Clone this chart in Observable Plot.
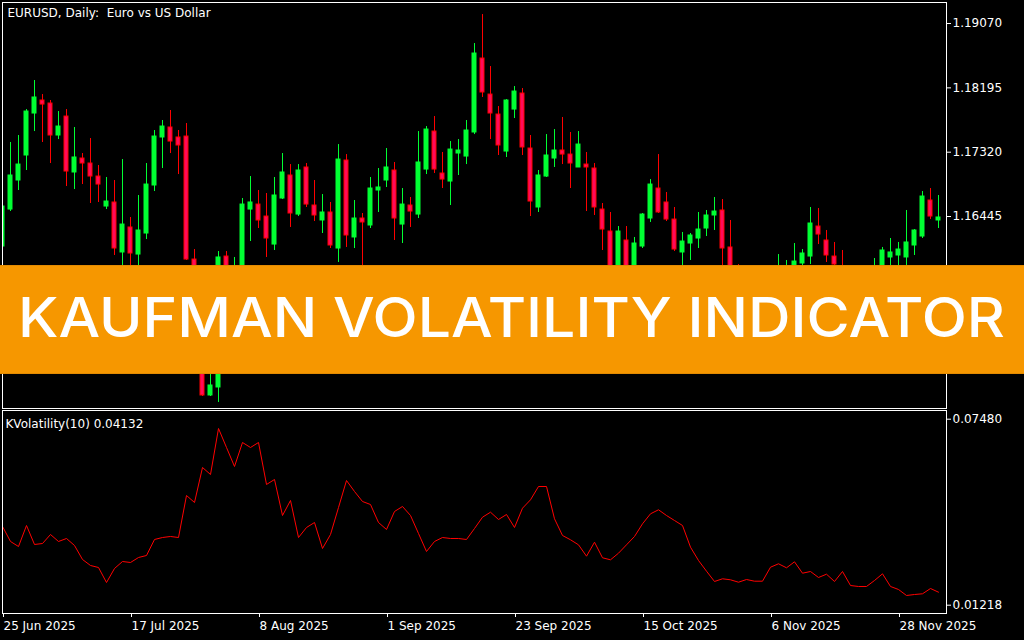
<!DOCTYPE html>
<html>
<head>
<meta charset="utf-8">
<script src="https://cdn.jsdelivr.net/npm/d3@7"></script>
<script src="https://cdn.jsdelivr.net/npm/@observablehq/plot@0.6"></script>
<style>
html, body { margin: 0; padding: 0; background: #000; }
#wrap { position: relative; width: 1024px; height: 640px; background: #000; overflow: hidden; }
#upper { position: absolute; left: 0; top: 0; }
#lower { position: absolute; left: 0; top: 410px; }
#banner { position: absolute; left: 0; top: 265px; width: 1024px; height: 109px; background: #F69700;
  border-top: 1px solid #E38A00; border-bottom: 1px solid #E38A00; box-sizing: border-box; }
#banner svg { display: block; }
svg text { white-space: pre; }
</style>
</head>
<body>
<div id="wrap">
  <div id="upper"></div>
  <div id="lower"></div>
  <div id="banner">
    <svg width="1024" height="107">
      <text x="18" y="71" fill="#fff" font-family="Inter" font-weight="500" font-size="55" textLength="987" lengthAdjust="spacingAndGlyphs">KAUFMAN VOLATILITY INDICATOR</text>
    </svg>
  </div>
</div>
<script>
// ---- Data (EURUSD daily, 25 Jun 2025 .. 5 Dec 2025) ----
const chartTitle = "EURUSD, Daily:  Euro vs US Dollar";
const indicatorLabel = "KVolatility(10) 0.04132";

const open = [
1.16037,1.16540,1.16935,1.17275,1.17846,1.18023,1.17982,1.17547,1.17805,1.17044,
1.17234,1.17166,1.16989,1.16581,1.16636,1.15956,1.16296,1.15928,1.16214,1.16867,
1.17520,1.17656,1.17520,1.17533,1.15860,1.15303,1.14011,1.14120,1.15901,1.15548,
1.15711,1.16540,1.16608,1.16445,1.16064,1.16690,1.17003,1.16472,1.17112,1.16595,
1.16391,1.16500,1.16010,1.17207,1.16160,1.16418,1.16323,1.16799,1.16935,1.17071,
1.16336,1.16595,1.16472,1.17084,1.17601,1.17030,1.16921,1.17302,1.17261,1.17588,
1.18594,1.18104,1.17832,1.17329,1.17900,1.18118,1.17370,1.16568,1.16989,1.17234,
1.17343,1.17288,1.17112,1.17152,1.17098,1.16540,1.16241,1.15575,1.16119,1.15643,
1.16037,1.16418,1.16826,1.16636,1.16404,1.15956,1.16078,1.16146,1.16282,1.16459,
1.16527,1.16024,1.15439,1.15303,1.15439,1.15330,1.15466,1.15371,1.15643,1.15711,
1.15806,1.15901,1.16309,1.16119,1.15901,1.15765,1.15548,1.15439,1.15575,1.15507,
1.15684,1.15888,1.15915,1.15888,1.16051,1.16173,1.16663,1.16391];

const high = [
1.16663,1.17452,1.17547,1.17900,1.18295,1.18104,1.18023,1.17873,1.17900,1.17656,
1.17302,1.17506,1.17139,1.16976,1.16935,1.17220,1.16432,1.16731,1.17166,1.17615,
1.17751,1.17887,1.17615,1.17710,1.15996,1.15439,1.14487,1.15969,1.15969,1.15888,
1.16690,1.16989,1.16799,1.16758,1.16976,1.17302,1.17152,1.17152,1.17166,1.16935,
1.16744,1.16636,1.17424,1.17288,1.16663,1.16486,1.16976,1.17098,1.17370,1.17180,
1.16826,1.16704,1.17601,1.17669,1.17805,1.17316,1.17465,1.17492,1.17751,1.18798,
1.19192,1.18485,1.17941,1.18036,1.18213,1.18186,1.17547,1.17071,1.17560,1.17628,
1.17792,1.17588,1.17601,1.17316,1.17166,1.16622,1.16500,1.16309,1.16309,1.16160,
1.16486,1.16948,1.17288,1.16772,1.16568,1.16228,1.16214,1.16500,1.16527,1.16704,
1.16676,1.16391,1.15792,1.15575,1.15534,1.15507,1.15643,1.15928,1.15847,1.16078,
1.15996,1.16568,1.16554,1.16255,1.16092,1.15983,1.15711,1.15684,1.15711,1.15874,
1.16024,1.16146,1.16092,1.16527,1.16268,1.16785,1.16826,1.16731];

const low = [
1.15983,1.16513,1.16799,1.17071,1.17601,1.17452,1.17166,1.17492,1.16853,1.16812,
1.16880,1.16622,1.16636,1.16540,1.15915,1.15643,1.15684,1.15738,1.16132,1.16785,
1.17098,1.17302,1.17016,1.15847,1.15235,1.13997,1.13997,1.13916,1.15507,1.15412,
1.15643,1.16105,1.16282,1.15888,1.15983,1.16676,1.16296,1.16445,1.16568,1.16377,
1.16214,1.16010,1.15820,1.16024,1.16010,1.15684,1.16282,1.16500,1.16840,1.16119,
1.16078,1.16296,1.16418,1.17016,1.17030,1.16826,1.16595,1.17003,1.17152,1.17560,
1.18064,1.17492,1.17275,1.17248,1.17778,1.17275,1.16445,1.16500,1.16976,1.17112,
1.17152,1.16826,1.17112,1.16513,1.16459,1.15983,1.15439,1.15439,1.15507,1.15548,
1.16010,1.16364,1.16486,1.16377,1.15969,1.15738,1.15847,1.16010,1.16173,1.16255,
1.15711,1.15303,1.15167,1.15140,1.15235,1.15167,1.15303,1.15303,1.15439,1.15602,
1.15684,1.15792,1.16064,1.15820,1.15643,1.15439,1.15303,1.15330,1.15371,1.15439,
1.15643,1.15711,1.15738,1.15738,1.15915,1.16146,1.16404,1.16282];

const close = [
1.16581,1.17003,1.17152,1.17873,1.18064,1.17968,1.17547,1.17669,1.17057,1.17248,
1.17166,1.16989,1.16880,1.16649,1.16010,1.16336,1.15942,1.16255,1.16880,1.17533,
1.17669,1.17465,1.17411,1.15860,1.15303,1.14011,1.14147,1.15888,1.15643,1.15711,
1.16608,1.16636,1.16391,1.16146,1.16731,1.17044,1.16486,1.17071,1.16608,1.16459,
1.16500,1.16051,1.17220,1.16187,1.16418,1.16364,1.16826,1.16840,1.17112,1.16418,
1.16608,1.16513,1.17180,1.17628,1.17084,1.16948,1.17356,1.17343,1.17615,1.18662,
1.18132,1.17846,1.17411,1.18023,1.18145,1.17384,1.16649,1.17003,1.17275,1.17343,
1.17288,1.17166,1.17424,1.17112,1.16568,1.16268,1.15575,1.16241,1.15643,1.16078,
1.16472,1.16880,1.16500,1.16404,1.15996,1.16105,1.16187,1.16268,1.16459,1.16513,
1.16010,1.15439,1.15303,1.15439,1.15330,1.15466,1.15371,1.15711,1.15738,1.15833,
1.15942,1.16350,1.16200,1.15915,1.15792,1.15548,1.15439,1.15575,1.15507,1.15711,
1.15983,1.15956,1.15996,1.16092,1.16255,1.16717,1.16445,1.16432];

const kvol = [
0.03868,0.03363,0.03194,0.03901,0.03262,0.03295,0.03598,0.03363,0.03464,0.03228,
0.02757,0.02555,0.02487,0.01982,0.02454,0.02689,0.02656,0.02824,0.02891,0.03430,
0.03497,0.03531,0.03497,0.04911,0.04676,0.05854,0.05618,0.07167,0.06527,0.05888,
0.06696,0.06527,0.06696,0.05282,0.05450,0.04238,0.04743,0.03497,0.03834,0.04002,
0.03127,0.03598,0.04507,0.05416,0.05046,0.04709,0.04608,0.04002,0.03767,0.04373,
0.04541,0.04238,0.03632,0.03026,0.03363,0.03497,0.03464,0.03464,0.03430,0.03800,
0.04181,0.04349,0.04103,0.04272,0.03834,0.04484,0.04766,0.05214,0.05214,0.04127,
0.03565,0.03420,0.03251,0.02868,0.03339,0.02814,0.02746,0.02969,0.03251,0.03531,
0.03958,0.04295,0.04430,0.04238,0.04070,0.03901,0.03171,0.02723,0.02363,0.02016,
0.02107,0.02073,0.01992,0.02083,0.02026,0.02026,0.02497,0.02612,0.02477,0.02679,
0.02295,0.02353,0.02151,0.02262,0.02016,0.02353,0.01881,0.01848,0.01848,0.02050,
0.02275,0.01848,0.01747,0.01545,0.01578,0.01602,0.01780,0.01656];

const priceTicks = [1.19070, 1.18195, 1.17320, 1.16445];
const kvolTicks = [0.07480, 0.01218];
const dateTickBars = [0, 16, 32, 48, 64, 80, 96, 112];
const dateTickLabels = ["25 Jun 2025", "17 Jul 2025", "8 Aug 2025", "1 Sep 2025",
  "23 Sep 2025", "15 Oct 2025", "6 Nov 2025", "28 Nov 2025"];

// ---- Styling ----
const GREEN = "#00ff33", RED = "#ff0000", PINK = "#ff0a5a";
const baseStyle = {background: "#000", color: "#fff", fontFamily: "DejaVu Sans", fontSize: "12px", overflow: "visible"};
const fmt5 = d3.format(".5f");

const bars = open.map((o, i) => ({i, o, h: high[i], l: low[i], c: close[i], up: close[i] >= o}));
const nBars = open.length;

const upper = Plot.plot({
  width: 1024, height: 410,
  marginLeft: 2, marginRight: 78, marginTop: 2, marginBottom: 2,
  style: baseStyle,
  x: {domain: [0, nBars], axis: null},
  y: {domain: [1.13834, 1.19356], axis: null, label: null},
  marks: [
    Plot.ruleX(bars, {x: "i", y1: "l", y2: "h", stroke: d => d.up ? GREEN : RED, strokeWidth: 1, clip: true}),
    Plot.rect(bars, {x1: d => d.i - 0.25, x2: d => d.i + 0.25, y1: "o", y2: "c",
      fill: d => d.up ? GREEN : PINK, stroke: d => d.up ? GREEN : RED, strokeWidth: 1, clip: true}),
    Plot.frame({stroke: "#fff"}),
    Plot.axisY(priceTicks, {anchor: "right", tickSize: 4, tickPadding: 2, tickFormat: fmt5, label: null, stroke: "#fff", fill: "#fff"}),
    Plot.text([chartTitle], {frameAnchor: "top-left", lineAnchor: "top", dx: 5, dy: 6, fill: "#fff", textAnchor: "start"})
  ]
});
document.getElementById("upper").appendChild(upper);

const lower = Plot.plot({
  width: 1024, height: 230,
  marginLeft: 2, marginRight: 78, marginTop: 0, marginBottom: 27,
  style: baseStyle,
  x: {domain: [0, nBars], axis: null},
  y: {domain: [0.009385, 0.077729], axis: null, label: null},
  marks: [
    Plot.line(kvol, {x: (d, i) => i, y: d => d, stroke: RED, strokeWidth: 1, strokeLinejoin: "miter", clip: true}),
    Plot.frame({stroke: "#fff"}),
    Plot.axisY(kvolTicks, {anchor: "right", tickSize: 4, tickPadding: 2, tickFormat: fmt5, label: null, stroke: "#fff", fill: "#fff"}),
    Plot.axisX(dateTickBars, {anchor: "bottom", tickSize: 4, tickPadding: 4, label: null,
      tickFormat: d => dateTickLabels[dateTickBars.indexOf(d)], textAnchor: "start", dx: 1, stroke: "#fff", fill: "#fff"}),
    Plot.text([indicatorLabel], {frameAnchor: "top-left", lineAnchor: "top", dx: 3, dy: 9, fill: "#fff", textAnchor: "start"})
  ]
});
document.getElementById("lower").appendChild(lower);
</script>
</body>
</html>
